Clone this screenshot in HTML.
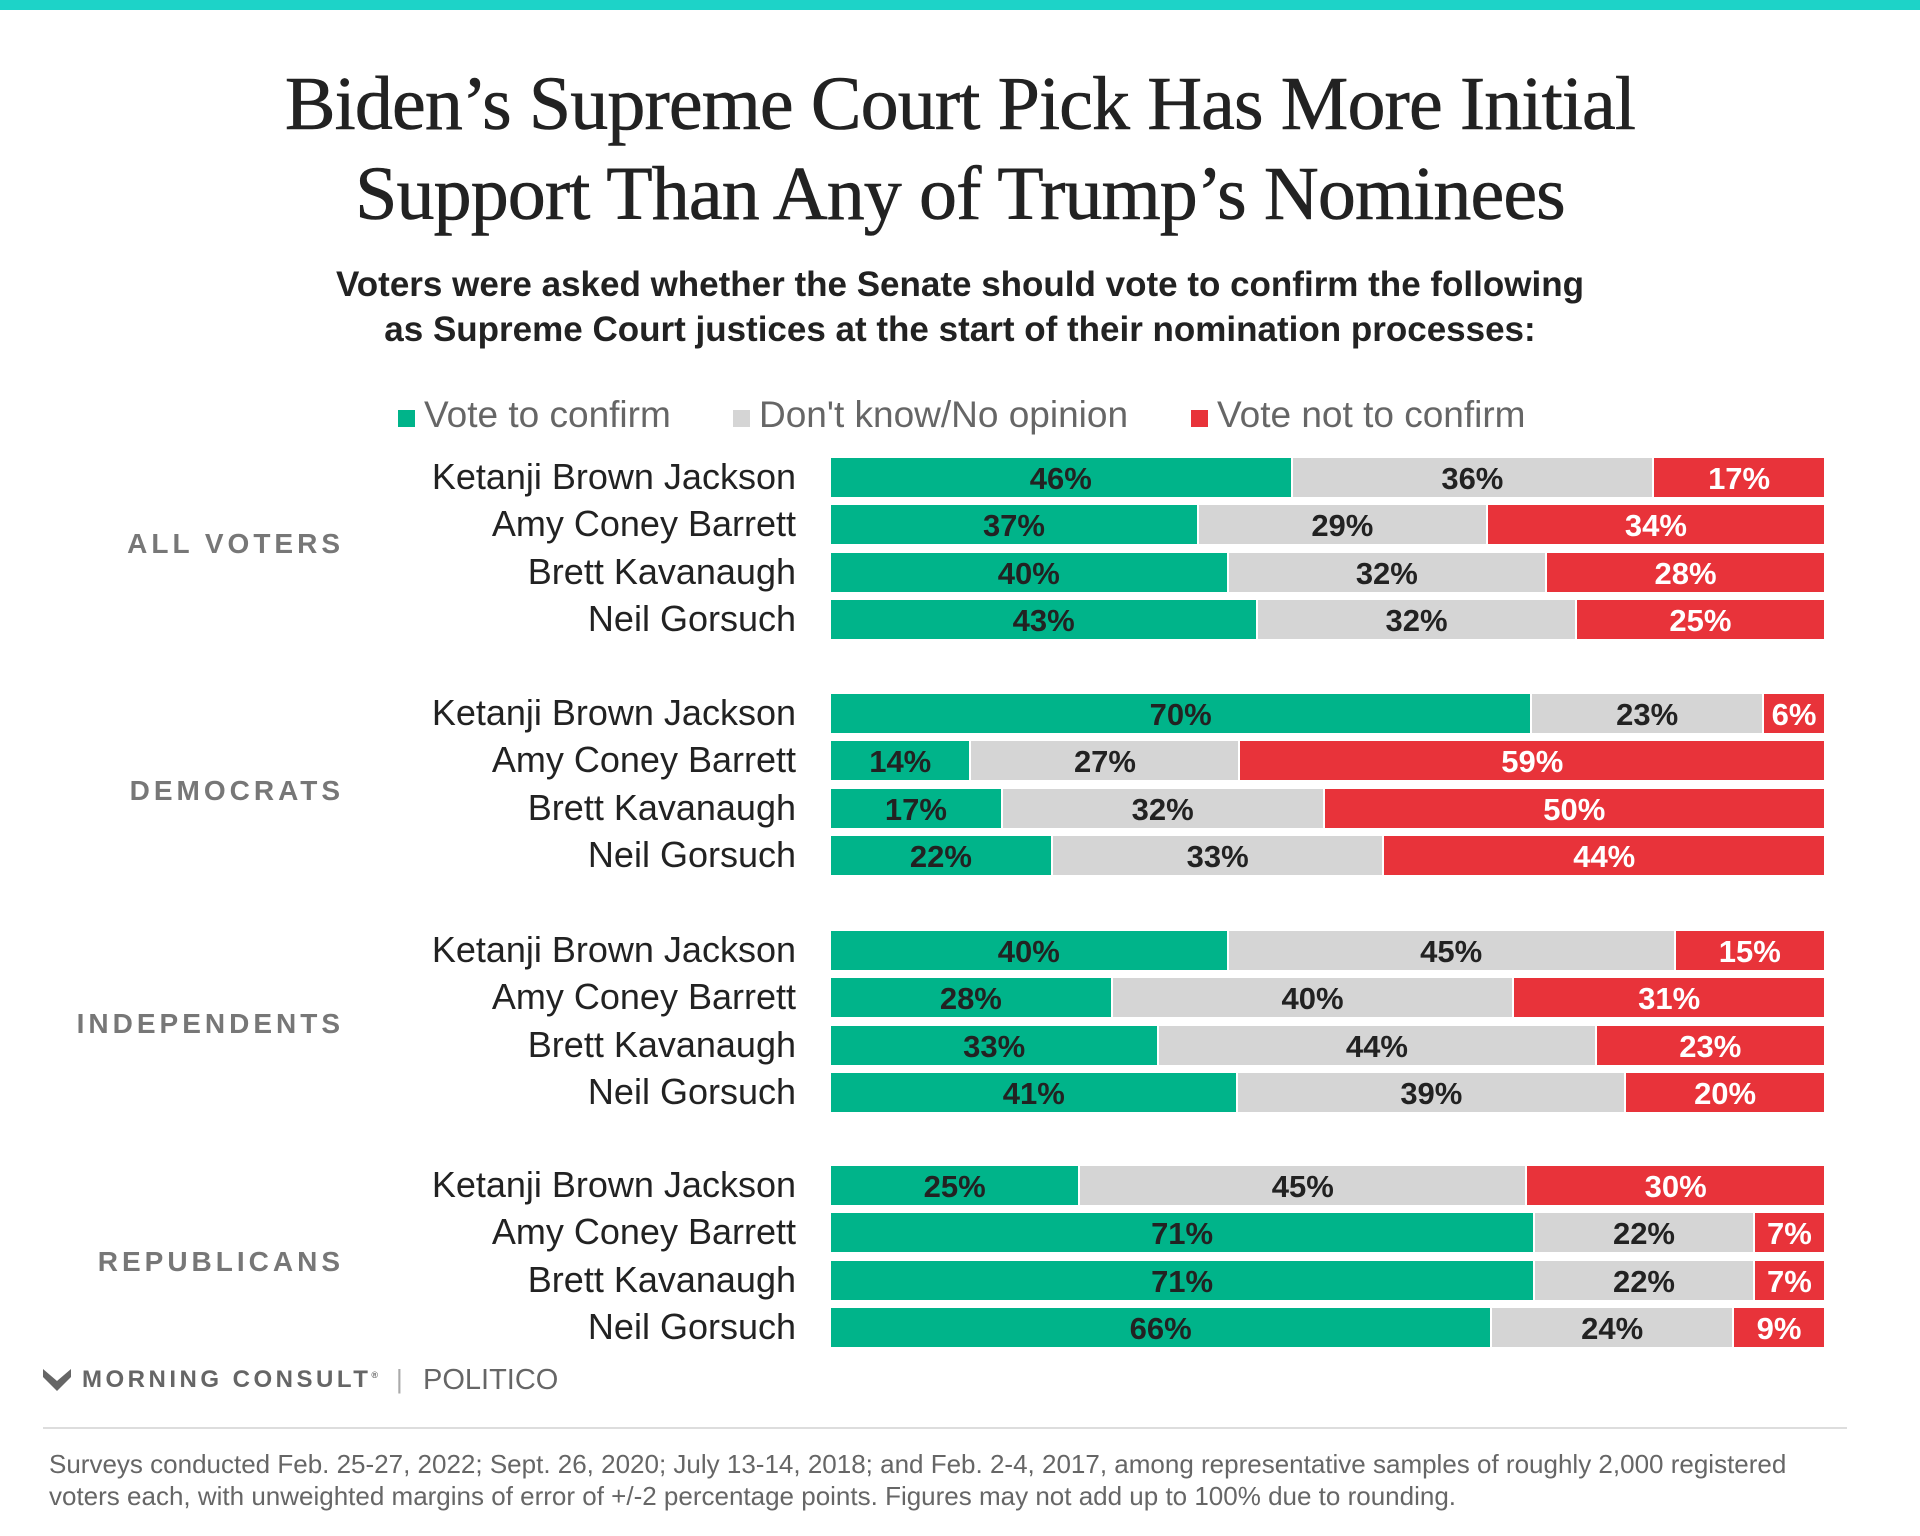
<!DOCTYPE html>
<html><head><meta charset="utf-8"><style>
*{margin:0;padding:0;box-sizing:border-box}
body{width:1920px;height:1536px;background:#fff;position:relative;font-family:"Liberation Sans",sans-serif;overflow:hidden}
.top{position:absolute;left:0;top:0;width:1920px;height:10px;background:#1dd3c8}
.title{position:absolute;left:0;width:1920px;text-align:center;font-family:"Liberation Serif",serif;font-size:76px;color:#222;letter-spacing:-0.9px;-webkit-text-stroke:0.6px #222}
.sub{position:absolute;left:0;width:1920px;text-align:center;font-weight:bold;font-size:35px;color:#222}
.leg{position:absolute;top:394px;font-size:37px;color:#666}
.sq{position:absolute;width:17px;height:17px;top:410px}
.name{position:absolute;right:1124px;font-size:36px;color:#222;white-space:nowrap;line-height:39px}
.grp{position:absolute;right:1576px;font-size:28px;font-weight:bold;color:#777;letter-spacing:4px;white-space:nowrap}
.bar{position:absolute;left:831px;width:993px;height:39px;display:flex}
.bar div{height:39px;display:flex;align-items:center;justify-content:center;font-weight:bold;font-size:31px;color:#222;overflow:hidden;padding-top:3px}
.g{background:#00b48a}.y{background:#d5d5d5;border-left:2px solid #fff}.r{background:#e8333a;color:#fff!important;border-left:2px solid #fff}
.foot{position:absolute;left:49px;font-size:26px;color:#666}
</style></head><body>
<div class="top"></div>
<div class="title" style="top:61px">Biden’s Supreme Court Pick Has More Initial</div>
<div class="title" style="top:151px">Support Than Any of Trump’s Nominees</div>
<div class="sub" style="top:265px">Voters were asked whether the Senate should vote to confirm the following</div>
<div class="sub" style="top:310px">as Supreme Court justices at the start of their nomination processes:</div>
<div class="sq" style="left:398px;background:#00b48a"></div><div class="leg" style="left:424px">Vote to confirm</div>
<div class="sq" style="left:733px;background:#d5d5d5"></div><div class="leg" style="left:759px">Don't know/No opinion</div>
<div class="sq" style="left:1191px;background:#e8333a"></div><div class="leg" style="left:1217px">Vote not to confirm</div>
<div id="c"></div>
<svg style="position:absolute;left:43px;top:1369px" width="28" height="22" viewBox="0 0 28 22"><path d="M0 0 L14 12 L28 0 L28 8 L14 22 L0 8 Z" fill="#666"/></svg>
<div style="position:absolute;left:82px;top:1366px;font-size:24px;font-weight:bold;color:#666;letter-spacing:3.5px">MORNING CONSULT<sup style="font-size:9px">®</sup></div>
<div style="position:absolute;left:396px;top:1364px;font-size:26px;color:#aaa">|</div>
<div style="position:absolute;left:423px;top:1364px;font-size:29px;color:#666;letter-spacing:0px">POLITICO</div>
<div style="position:absolute;left:43px;top:1427px;width:1804px;height:2px;background:#ddd"></div>
<div class="foot" style="top:1449px">Surveys conducted Feb. 25-27, 2022; Sept. 26, 2020; July 13-14, 2018; and Feb. 2-4, 2017, among representative samples of roughly 2,000 registered</div>
<div class="foot" style="top:1481px">voters each, with unweighted margins of error of +/-2 percentage points. Figures may not add up to 100% due to rounding.</div>
<script>
var names=["Ketanji Brown Jackson","Amy Coney Barrett","Brett Kavanaugh","Neil Gorsuch"];
var groups=["ALL VOTERS","DEMOCRATS","INDEPENDENTS","REPUBLICANS"];
var gtops=[458,694,931,1166];
var gl=[70,81,77,80];
var d=[[[46,36,17],[37,29,34],[40,32,28],[43,32,25]],
[[70,23,6],[14,27,59],[17,32,50],[22,33,44]],
[[40,45,15],[28,40,31],[33,44,23],[41,39,20]],
[[25,45,30],[71,22,7],[71,22,7],[66,24,9]]];
var h="";
for(var g=0;g<4;g++){
 var t0=gtops[g];
 h+='<div class="grp" style="top:'+(t0+gl[g])+'px">'+groups[g]+'</div>';
 for(var i=0;i<4;i++){
  var t=t0+i*47.3, v=d[g][i];
  h+='<div class="name" style="top:'+(t-1)+'px">'+names[i]+'</div>';
  h+='<div class="bar" style="top:'+t+'px"><div class="g" style="flex:'+v[0]+' 1 0">'+v[0]+'%</div><div class="y" style="flex:'+v[1]+' 1 0">'+v[1]+'%</div><div class="r" style="flex:'+v[2]+' 1 0">'+v[2]+'%</div></div>';
 }
}
document.getElementById("c").innerHTML=h;
</script>
</body></html>
